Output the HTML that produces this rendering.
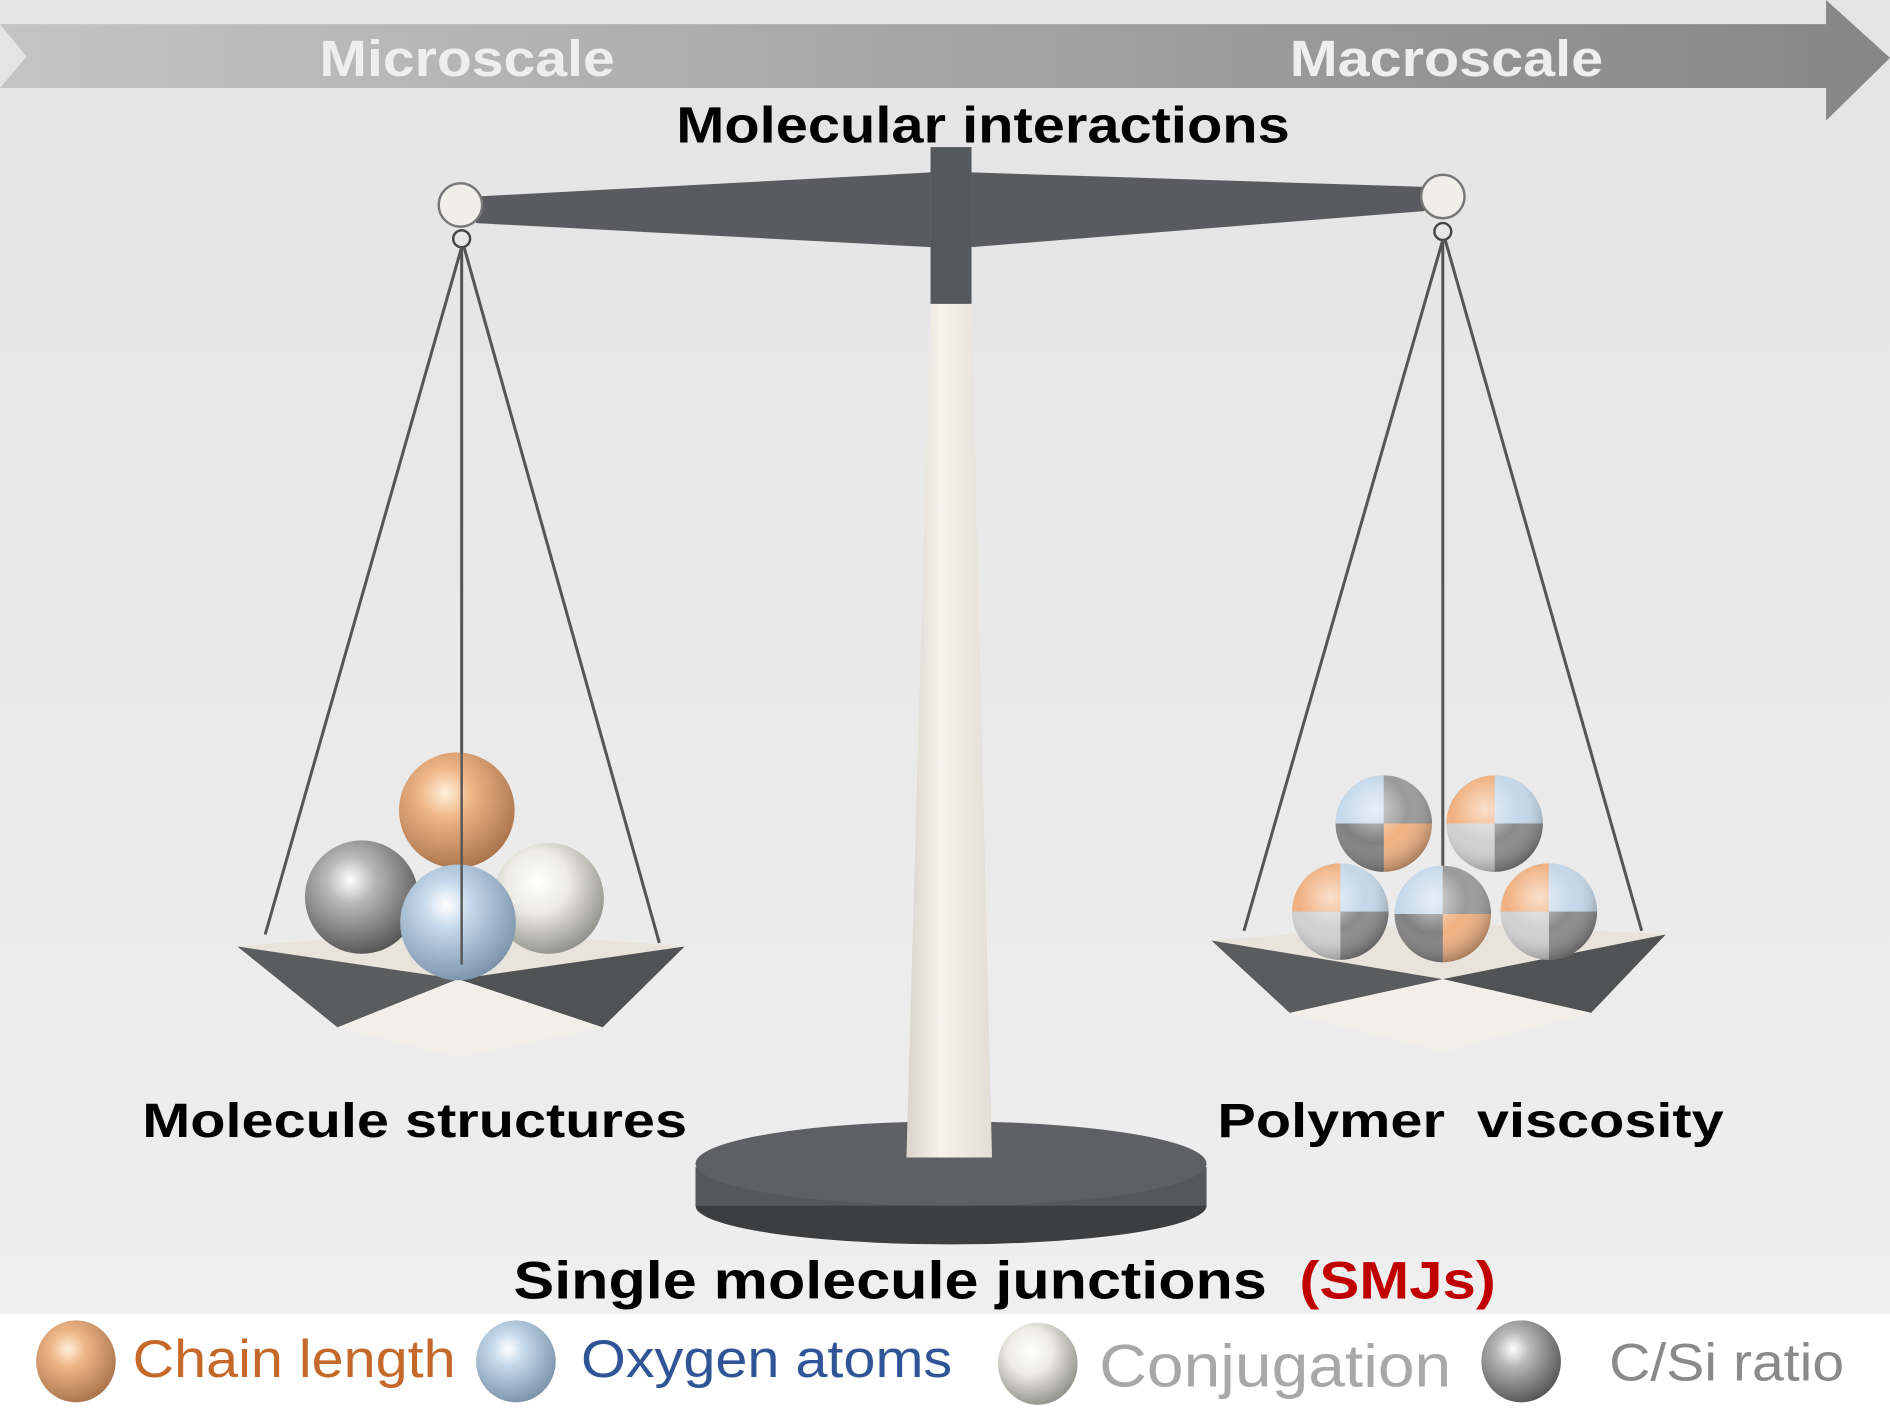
<!DOCTYPE html>
<html><head><style>html,body{margin:0;padding:0;background:#fff}svg{display:block}</style></head>
<body>
<svg width="1890" height="1418" viewBox="0 0 1568 1176" preserveAspectRatio="none" xmlns="http://www.w3.org/2000/svg" font-family="Liberation Sans, sans-serif">
<defs>
<linearGradient id="bg" x1="0" y1="0" x2="0" y2="1"><stop offset="0" stop-color="#e4e4e4"/><stop offset="1" stop-color="#efefef"/></linearGradient>
<linearGradient id="arr" x1="0" y1="0" x2="1" y2="0"><stop offset="0" stop-color="#c4c4c4"/><stop offset="1" stop-color="#868686"/></linearGradient>
<linearGradient id="col" x1="0" y1="0" x2="1" y2="0"><stop offset="0" stop-color="#d8d4cc"/><stop offset="0.4" stop-color="#f6f3ec"/><stop offset="1" stop-color="#e2ded6"/></linearGradient>
<radialGradient id="or" cx="0.4" cy="0.35" r="0.7"><stop offset="0" stop-color="#fff0dc"/><stop offset="0.3" stop-color="#f0b888"/><stop offset="1" stop-color="#a87048"/></radialGradient>
<radialGradient id="bl" cx="0.4" cy="0.35" r="0.7"><stop offset="0" stop-color="#ffffff"/><stop offset="0.3" stop-color="#c4d8ea"/><stop offset="1" stop-color="#7890a8"/></radialGradient>
<radialGradient id="wh" cx="0.4" cy="0.35" r="0.7"><stop offset="0" stop-color="#ffffff"/><stop offset="0.4" stop-color="#ecebe4"/><stop offset="1" stop-color="#8c8c86"/></radialGradient>
<radialGradient id="gr" cx="0.4" cy="0.35" r="0.7"><stop offset="0" stop-color="#ffffff"/><stop offset="0.3" stop-color="#b8b8b8"/><stop offset="1" stop-color="#505050"/></radialGradient>
<radialGradient id="shade" cx="0.4" cy="0.35" r="0.7"><stop offset="0" stop-color="#fff" stop-opacity="0.6"/><stop offset="0.5" stop-color="#fff" stop-opacity="0"/><stop offset="1" stop-color="#000" stop-opacity="0.35"/></radialGradient>
<g id="mix">
<circle r="40" fill="#b0b0b0"/>
<path d="M0 0 L0 -40 A40 40 0 0 0 -40 0 Z" fill="#c4d8ea"/>
<path d="M0 0 L40 0 A40 40 0 0 0 0 -40 Z" fill="#9a9a9a"/>
<path d="M0 0 L0 40 A40 40 0 0 0 40 0 Z" fill="#f0b080"/>
<path d="M0 0 L-40 0 A40 40 0 0 0 0 40 Z" fill="#808080"/>
<circle r="40" fill="url(#shade)"/>
</g>
<g id="mix2">
<circle r="40" fill="#b0b0b0"/>
<path d="M0 0 L0 -40 A40 40 0 0 0 -40 0 Z" fill="#f0b080"/>
<path d="M0 0 L40 0 A40 40 0 0 0 0 -40 Z" fill="#c4d8ea"/>
<path d="M0 0 L0 40 A40 40 0 0 0 40 0 Z" fill="#8a8a8a"/>
<path d="M0 0 L-40 0 A40 40 0 0 0 0 40 Z" fill="#d0d0d0"/>
<circle r="40" fill="url(#shade)"/>
</g>
</defs>
<rect width="1568" height="1176" fill="url(#bg)"/>
<rect y="1040" width="1568" height="50" fill="#efefef"/>
<rect y="1090" width="1568" height="86" fill="#fff"/>
<!-- arrow -->
<polygon points="0,20 1515,20 1515,0 1568,48 1515,100 1515,73 0,73 22,47" fill="url(#arr)"/>
<text x="265" y="63" font-size="42" font-weight="bold" fill="#eeeeee" textLength="245" lengthAdjust="spacingAndGlyphs">Microscale</text>
<text x="1070" y="63" font-size="42" font-weight="bold" fill="#eeeeee" textLength="260" lengthAdjust="spacingAndGlyphs">Macroscale</text>
<text x="561" y="118" font-size="42" font-weight="bold" fill="#000" textLength="509" lengthAdjust="spacingAndGlyphs">Molecular interactions</text>
<!-- base -->
<ellipse cx="789" cy="1000" rx="212" ry="32" fill="#3c3e40"/>
<rect x="577" y="968" width="424" height="32" fill="#55575a"/>
<ellipse cx="789" cy="965" rx="212" ry="35" fill="#5e6063"/>
<!-- column -->
<polygon points="772,252 806,252 823,960 752,960" fill="url(#col)"/>
<rect x="772" y="122" width="34" height="130" fill="#55585b"/>
<!-- beam -->
<polygon points="395,163 772,143 772,205 395,185" fill="#595b5e"/>
<polygon points="806,143 1182,155 1182,175 806,205" fill="#595b5e"/>
<circle cx="382" cy="170" r="18" fill="#f0eee8" stroke="#777" stroke-width="2"/>
<circle cx="1197" cy="163" r="18" fill="#f0eee8" stroke="#777" stroke-width="2"/>
<circle cx="383" cy="198" r="7" fill="none" stroke="#444" stroke-width="2"/>
<circle cx="1197" cy="192" r="7" fill="none" stroke="#444" stroke-width="2"/>
<!-- left strings -->
<g stroke="#555" stroke-width="2.5" fill="none">
<line x1="383" y1="205" x2="220" y2="775"/>
<line x1="383" y1="205" x2="383" y2="800"/>
<line x1="385" y1="205" x2="547" y2="782"/>
<line x1="1197" y1="199" x2="1032" y2="772"/>
<line x1="1197" y1="199" x2="1197" y2="795"/>
<line x1="1199" y1="199" x2="1362" y2="772"/>
</g>
<!-- left pan -->
<polygon points="197,785 380,770 568,785 380,812" fill="#e8e4dc"/>
<polygon points="197,785 380,812 280,852" fill="#5a5c5e"/>
<polygon points="380,812 568,785 500,852" fill="#505254"/>
<polygon points="280,852 380,812 500,852 380,877" fill="#f2efe8"/>
<!-- left balls -->
<circle cx="379" cy="672" r="48" fill="url(#or)"/>
<circle cx="300" cy="744" r="47" fill="url(#gr)"/>
<circle cx="455" cy="745" r="46" fill="url(#wh)"/>
<circle cx="380" cy="765" r="48" fill="url(#bl)"/>
<line x1="383" y1="620" x2="383" y2="800" stroke="#555" stroke-width="2"/>
<!-- right pan -->
<polygon points="1005,780 1197,765 1382,775 1197,812" fill="#e8e4dc"/>
<polygon points="1005,780 1197,812 1070,840" fill="#5a5c5e"/>
<polygon points="1197,812 1382,775 1320,840" fill="#505254"/>
<polygon points="1070,840 1197,812 1320,840 1197,872" fill="#f2efe8"/>
<!-- right balls -->
<use href="#mix" x="1148" y="683"/>
<use href="#mix2" x="1240" y="683"/>
<use href="#mix2" x="1112" y="756"/>
<use href="#mix" x="1197" y="758"/>
<use href="#mix2" x="1285" y="756"/>
<!-- labels -->
<text x="118" y="943" font-size="40" font-weight="bold" fill="#000" textLength="452" lengthAdjust="spacingAndGlyphs">Molecule structures</text>
<text x="1010" y="943" font-size="40" font-weight="bold" fill="#000" textLength="420" lengthAdjust="spacingAndGlyphs" xml:space="preserve">Polymer  viscosity</text>
<text x="426" y="1077" font-size="44" font-weight="bold" fill="#000" textLength="625" lengthAdjust="spacingAndGlyphs">Single molecule junctions</text>
<text x="1078" y="1077" font-size="44" font-weight="bold" fill="#c00000" textLength="163" lengthAdjust="spacingAndGlyphs">(SMJs)</text>
<!-- legend -->
<ellipse cx="63" cy="1129" rx="33" ry="34" fill="url(#or)"/>
<text x="110" y="1142" font-size="44" fill="#c4692a" textLength="268" lengthAdjust="spacingAndGlyphs">Chain length</text>
<ellipse cx="428" cy="1129" rx="33" ry="34" fill="url(#bl)"/>
<text x="482" y="1142" font-size="44" fill="#2f5597" textLength="308" lengthAdjust="spacingAndGlyphs">Oxygen atoms</text>
<ellipse cx="861" cy="1131" rx="33" ry="34" fill="url(#wh)"/>
<text x="912" y="1150" font-size="50" fill="#a8a8a8" textLength="292" lengthAdjust="spacingAndGlyphs">Conjugation</text>
<ellipse cx="1262" cy="1129" rx="33" ry="34" fill="url(#gr)"/>
<text x="1335" y="1145" font-size="44" fill="#8a8a8a" textLength="195" lengthAdjust="spacingAndGlyphs">C/Si ratio</text>
</svg>
</body></html>
